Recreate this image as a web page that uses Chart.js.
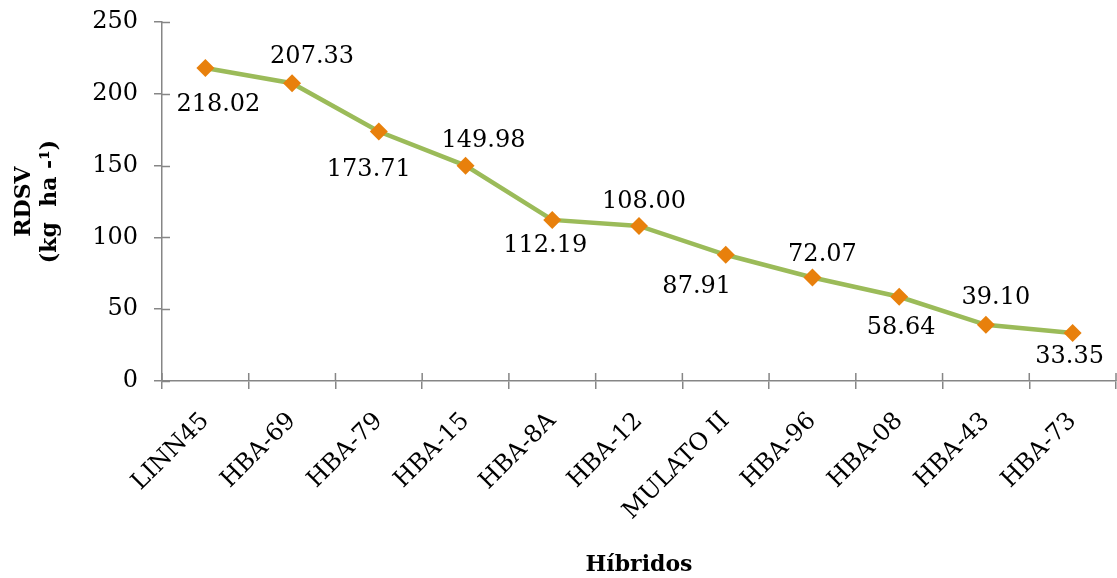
<!DOCTYPE html>
<html>
<head>
<meta charset="utf-8">
<script src="https://cdn.jsdelivr.net/npm/chart.js@4.4.1/dist/chart.umd.min.js"></script>
<style>
  html, body { margin: 0; padding: 0; background: #fff; overflow: hidden; }
  #wrap { position: absolute; left: 0; top: 0; width: 1125px; height: 578px; }
</style>
</head>
<body>
<div id="wrap"><canvas id="c"></canvas></div>
<script>
// Hybrids and their RDSV yield (kg ha-1)
const hybrids = ['LINN45', 'HBA-69', 'HBA-79', 'HBA-15', 'HBA-8A', 'HBA-12',
                 'MULATO II', 'HBA-96', 'HBA-08', 'HBA-43', 'HBA-73'];
const rdsv = [218.02, 207.33, 173.71, 149.98, 112.19, 108.00, 87.91, 72.07, 58.64, 39.10, 33.35];
const yTicks = [0, 50, 100, 150, 200, 250];

// where each value label sits relative to its marker (px)
const labelShift = [[13, 37], [20, -27], [-10, 38], [18, -25], [-7, 26], [5, -24],
                    [-29, 32], [10, -23], [2, 31], [10, -27], [-3, 24]];

const FONT = "'DejaVu Serif', serif";
const AXIS = '#868686';

// value labels next to each marker
const valueLabels = {
  id: 'valueLabels',
  afterDatasetsDraw(chart) {
    const ctx = chart.ctx;
    const meta = chart.getDatasetMeta(0);
    ctx.save();
    ctx.font = '24px ' + FONT;
    ctx.fillStyle = '#000';
    ctx.textAlign = 'center';
    ctx.textBaseline = 'middle';
    meta.data.forEach((pt, i) => {
      const [dx, dy] = labelShift[i];
      ctx.fillText(rdsv[i].toFixed(2), pt.x + dx, pt.y + dy);
    });
    ctx.restore();
  }
};

// tick marks that cross the axis lines (inner half)
const crossTicks = {
  id: 'crossTicks',
  afterDraw(chart) {
    const ctx = chart.ctx;
    const x = chart.scales.x, y = chart.scales.y;
    const ax = chart.chartArea.left, ay = chart.chartArea.bottom;
    ctx.save();
    ctx.strokeStyle = AXIS;
    ctx.lineWidth = 1.5;
    ctx.beginPath();
    yTicks.forEach(v => {
      const py = Math.round(y.getPixelForValue(v)) + 0.5;
      ctx.moveTo(ax, py); ctx.lineTo(ax + 8, py);
    });
    for (let i = 0; i <= hybrids.length; i++) {
      const px = x.getPixelForValue(i - 0.5);
      ctx.moveTo(px, ay); ctx.lineTo(px, ay - 8);
    }
    ctx.stroke();
    ctx.restore();
  }
};

new Chart(document.getElementById('c'), {
  type: 'line',
  data: {
    labels: hybrids,
    datasets: [{
      data: rdsv,
      borderColor: '#9BBB59',
      borderWidth: 4.5,
      tension: 0,
      pointStyle: 'rectRot',
      pointRadius: 9,
      pointBackgroundColor: '#E8800C',
      pointBorderColor: '#E8800C',
      pointBorderWidth: 0,
      clip: false
    }]
  },
  options: {
    responsive: true,
    maintainAspectRatio: false,
    animation: false,
    devicePixelRatio: 1,
    layout: { padding: { top: 22, left: 0, right: 3, bottom: 0 } },
    plugins: { legend: { display: false }, tooltip: { enabled: false } },
    scales: {
      x: {
        type: 'category',
        offset: true,
        grid: { drawOnChartArea: false, drawTicks: true, tickLength: 8, color: AXIS, lineWidth: 1.5, offset: true },
        border: { color: AXIS, width: 1.5 },
        ticks: { color: '#000', font: { family: FONT, size: 24 }, minRotation: 45, maxRotation: 45, padding: 18, autoSkip: false },
        title: { display: true, text: 'Híbridos', color: '#000', font: { family: FONT, size: 22, weight: 'bold' }, padding: { top: 0, bottom: 0 } },
        afterFit(s) { s.height = 197; s.paddingLeft = 0; s.paddingRight = 0; }
      },
      y: {
        min: 0, max: 250,
        afterBuildTicks(s) { s.ticks = yTicks.map(v => ({ value: v })); },
        grid: { drawOnChartArea: false, drawTicks: true, tickLength: 8, color: AXIS, lineWidth: 1.5 },
        border: { color: AXIS, width: 1.5 },
        ticks: { color: '#000', font: { family: FONT, size: 24 }, padding: 16 },
        title: { display: true, text: ['RDSV', '(kg  ha -¹)'], color: '#000', font: { family: FONT, size: 22, weight: 'bold', lineHeight: 1.2 }, padding: { top: 11, bottom: 0 } },
        afterFit(s) { s.width = 162; s.paddingTop = 0; s.paddingBottom = 0; }
      }
    }
  },
  plugins: [valueLabels, crossTicks]
});
</script>
</body>
</html>
